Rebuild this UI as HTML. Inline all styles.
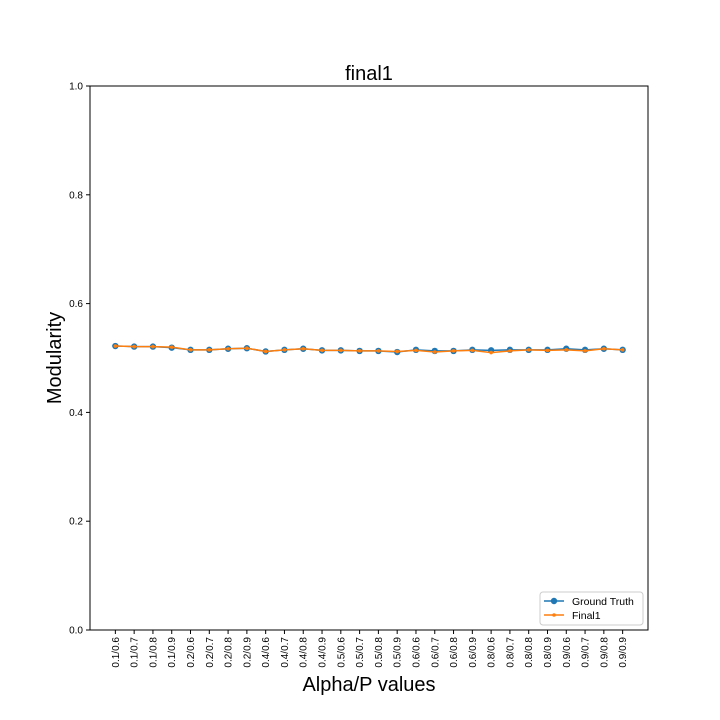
<!DOCTYPE html>
<html><head><meta charset="utf-8"><style>body{margin:0;background:#fff}svg{display:block}text{font-family:"Liberation Sans","DejaVu Sans",sans-serif}</style></head>
<body>
<svg id="chart" width="720" height="720"></svg>
<script>
const categories=["0.1/0.6","0.1/0.7","0.1/0.8","0.1/0.9","0.2/0.6","0.2/0.7","0.2/0.8","0.2/0.9","0.4/0.6","0.4/0.7","0.4/0.8","0.4/0.9","0.5/0.6","0.5/0.7","0.5/0.8","0.5/0.9","0.6/0.6","0.6/0.7","0.6/0.8","0.6/0.9","0.8/0.6","0.8/0.7","0.8/0.8","0.8/0.9","0.9/0.6","0.9/0.7","0.9/0.8","0.9/0.9"];
const groundTruth=[0.522,0.521,0.521,0.519,0.515,0.515,0.517,0.518,0.512,0.515,0.517,0.514,0.514,0.513,0.513,0.511,0.515,0.513,0.513,0.515,0.514,0.515,0.515,0.515,0.517,0.515,0.517,0.515];
const final1=[0.522,0.521,0.521,0.520,0.515,0.515,0.517,0.518,0.512,0.515,0.517,0.514,0.514,0.513,0.513,0.512,0.514,0.511,0.513,0.514,0.510,0.513,0.515,0.514,0.515,0.513,0.517,0.515];
const yTicks=[0,0.2,0.4,0.6,0.8,1.0];
const L=90,R=648,T=86,B=630;
const svg=document.getElementById('chart');const NS='http://www.w3.org/2000/svg';
function el(t,a,p){const e=document.createElementNS(NS,t);for(const k in a)e.setAttribute(k,a[k]);(p||svg).appendChild(e);return e;}
const n=categories.length;
const xs=i=>L+(R-L)*(i+0.05*(n-1))/((n-1)*1.1);
const ys=v=>B-(B-T)*v;
let e=el('rect',{x:L,y:T,width:R-L,height:B-T,fill:'none',stroke:'#000','stroke-width':1});

e=el('text',{x:(L+R)/2,y:80,'text-anchor':'middle','font-size':20});e.textContent='final1';

yTicks.forEach(v=>{const y=ys(v);el('line',{x1:L-4,x2:L,y1:y,y2:y,stroke:'#000'});
const t=el('text',{x:L-7,y:y+3.5,'text-anchor':'end','font-size':10});t.textContent=v.toFixed(1);
});
categories.forEach((c,i)=>{const x=xs(i);el('line',{x1:x,x2:x,y1:B,y2:B+4,stroke:'#000'});
const t=el('text',{x:0,y:0,'text-anchor':'end','font-size':10,transform:`translate(${x+3.5},${B+7}) rotate(-90)`});t.textContent=c;
});
e=el('text',{x:(L+R)/2,y:691,'text-anchor':'middle','font-size':20});e.textContent='Alpha/P values';

e=el('text',{x:0,y:0,'text-anchor':'middle','font-size':20,transform:`translate(61,${(T+B)/2}) rotate(-90)`});e.textContent='Modularity';

function series(vals,color,r,name){const pts=vals.map((v,i)=>xs(i)+','+ys(v)).join(' ');
const p=el('polyline',{points:pts,fill:'none',stroke:color,'stroke-width':1.5});

vals.forEach((v,i)=>{const c=el('circle',{cx:xs(i),cy:ys(v),r:r,fill:color});
});}
series(groundTruth,'#1f77b4',3.2,'ground-truth');
series(final1,'#ff7f0e',1.8,'final1');
const g=el('g',{});
el('rect',{x:540,y:592,width:103,height:33,rx:3,fill:'#fff',stroke:'#ccc'},g);
el('line',{x1:544,x2:564,y1:601,y2:601,stroke:'#1f77b4','stroke-width':1.5},g);
el('circle',{cx:554,cy:601,r:3.2,fill:'#1f77b4'},g);
e=el('text',{x:572,y:605,'font-size':10.5},g);e.textContent='Ground Truth';

el('line',{x1:544,x2:564,y1:615,y2:615,stroke:'#ff7f0e','stroke-width':1.5},g);
el('circle',{cx:554,cy:615,r:1.8,fill:'#ff7f0e'},g);
e=el('text',{x:572,y:619,'font-size':10.5},g);e.textContent='Final1';

</script>
</body></html>
